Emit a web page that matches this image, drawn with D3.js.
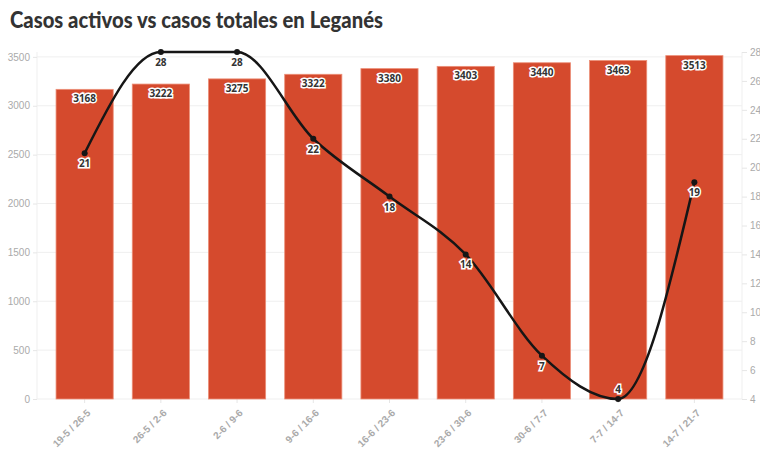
<!DOCTYPE html>
<html>
<head>
<meta charset="utf-8">
<script src="https://cdn.jsdelivr.net/npm/d3@7"></script>
<style>
  body { margin: 0; background: #fff; overflow: hidden; }
  svg { font-family: "Open Sans", sans-serif; display: block; }
</style>
</head>
<body>
<div id="chart"></div>
<script>
// data
const weeks = ["19-5 / 26-5", "26-5 / 2-6", "2-6 / 9-6", "9-6 / 16-6", "16-6 / 23-6",
    "23-6 / 30-6", "30-6 / 7-7", "7-7 / 14-7", "14-7 / 21-7"];
const totales = [3168, 3222, 3275, 3322, 3380, 3403, 3440, 3463, 3513];
const activos = [21, 28, 28, 22, 18, 14, 7, 4, 19];
const leftTicks = [0, 500, 1000, 1500, 2000, 2500, 3000, 3500];
const rightTicks = [4, 6, 8, 10, 12, 14, 16, 18, 20, 22, 24, 26, 28];

const W = 760, H = 450;
const margin = { top: 52, right: 18, bottom: 51, left: 37 };
const width = W - margin.left - margin.right,
    height = H - margin.top - margin.bottom;

const svg = d3.select("#chart").append("svg")
    .attr("width", W).attr("height", H);

svg.append("text")
    .attr("x", 10).attr("y", 28)
    .attr("textLength", 373).attr("lengthAdjust", "spacingAndGlyphs")
    .style("font-family", "Lato, sans-serif")
    .style("font-size", "22px").style("font-weight", 900)
    .style("fill", "#333")
    .text("Casos activos vs casos totales en Leganés");

const g = svg.append("g")
    .attr("transform", `translate(${margin.left}, ${margin.top})`);

const x = d3.scaleBand().domain(weeks).range([0, width]).padding(0.25);
const yL = d3.scaleLinear().domain([0, 3550]).range([height, 0]);
const yR = d3.scaleLinear().domain([4, 28]).range([height, 0]);

// grid
g.append("g").selectAll("line")
    .data(leftTicks).enter().append("line")
    .attr("x1", 0).attr("x2", width)
    .attr("y1", d => yL(d)).attr("y2", d => yL(d))
    .style("stroke", "#efefef");
g.append("line").attr("x1", 0).attr("x2", 0).attr("y1", 0).attr("y2", height)
    .style("stroke", "#efefef");
g.append("line").attr("x1", width).attr("x2", width).attr("y1", 0).attr("y2", height)
    .style("stroke", "#efefef");

// axes
const axL = g.append("g")
    .call(d3.axisLeft(yL).tickValues(leftTicks).tickFormat(d3.format("d")).tickSize(4).tickPadding(3));
const axR = g.append("g")
    .attr("transform", `translate(${width},0)`)
    .call(d3.axisRight(yR).tickValues(rightTicks).tickFormat(d3.format("d")).tickSize(5).tickPadding(3));
const axB = g.append("g")
    .attr("transform", `translate(0,${height})`)
    .call(d3.axisBottom(x).tickSize(4).tickFormat(""));
// rotated week labels
axB.selectAll(".tick")
    .append("text")
    .attr("class", "wk")
    .attr("text-anchor", "end")
    .attr("dy", "0.35em")
    .style("transform", "translate(4px, 12px) rotate(-45deg)")
    .text(d => d);
[axL, axR, axB].forEach(a => {
    a.select(".domain").remove();
    a.selectAll("line").style("stroke", "#e6e6e6");
    a.selectAll("text").style("fill", "#aaa").style("font-size", "10px");
});
axB.selectAll("text").style("font-weight", 600);

// bars
g.selectAll("rect.bar")
    .data(weeks).enter().append("rect")
    .attr("class", "bar")
    .attr("x", d => x(d))
    .attr("width", x.bandwidth())
    .attr("y", (d, i) => yL(totales[i]))
    .attr("height", (d, i) => height - yL(totales[i]))
    .style("fill", "#d54a2d")
    .style("stroke", "#ec8f78").style("stroke-width", 0.8);

function halo(sel) {
    sel.style("font-size", "10px").style("font-weight", 700)
        .style("fill", "#333")
        .style("stroke", "#fff").style("stroke-width", 3)
        .style("paint-order", "stroke")
        .attr("text-anchor", "middle");
}

g.selectAll("text.blab")
    .data(weeks).enter().append("text")
    .attr("class", "blab")
    .attr("x", d => x(d) + x.bandwidth() / 2)
    .attr("y", (d, i) => yL(totales[i]) + 13)
    .text((d, i) => totales[i])
    .call(halo);

// line
const cx = d => x(d) + x.bandwidth() / 2;
const line = d3.line()
    .x(d => cx(d))
    .y((d, i) => yR(activos[i]))
    .curve(d3.curveMonotoneX);
g.append("path")
    .datum(weeks)
    .attr("d", line)
    .style("fill", "none").style("stroke", "#161616").style("stroke-width", 2.5);

g.selectAll("circle.pt")
    .data(weeks).enter().append("circle")
    .attr("class", "pt")
    .attr("cx", cx)
    .attr("cy", (d, i) => yR(activos[i]))
    .attr("r", 3)
    .style("fill", "#161616");

g.selectAll("text.llab")
    .data(weeks).enter().append("text")
    .attr("class", "llab")
    .attr("x", cx)
    .attr("y", (d, i) => activos[i] <= 4 ? yR(activos[i]) - 6 : yR(activos[i]) + 14)
    .text((d, i) => activos[i])
    .call(halo);
</script>
</body>
</html>
